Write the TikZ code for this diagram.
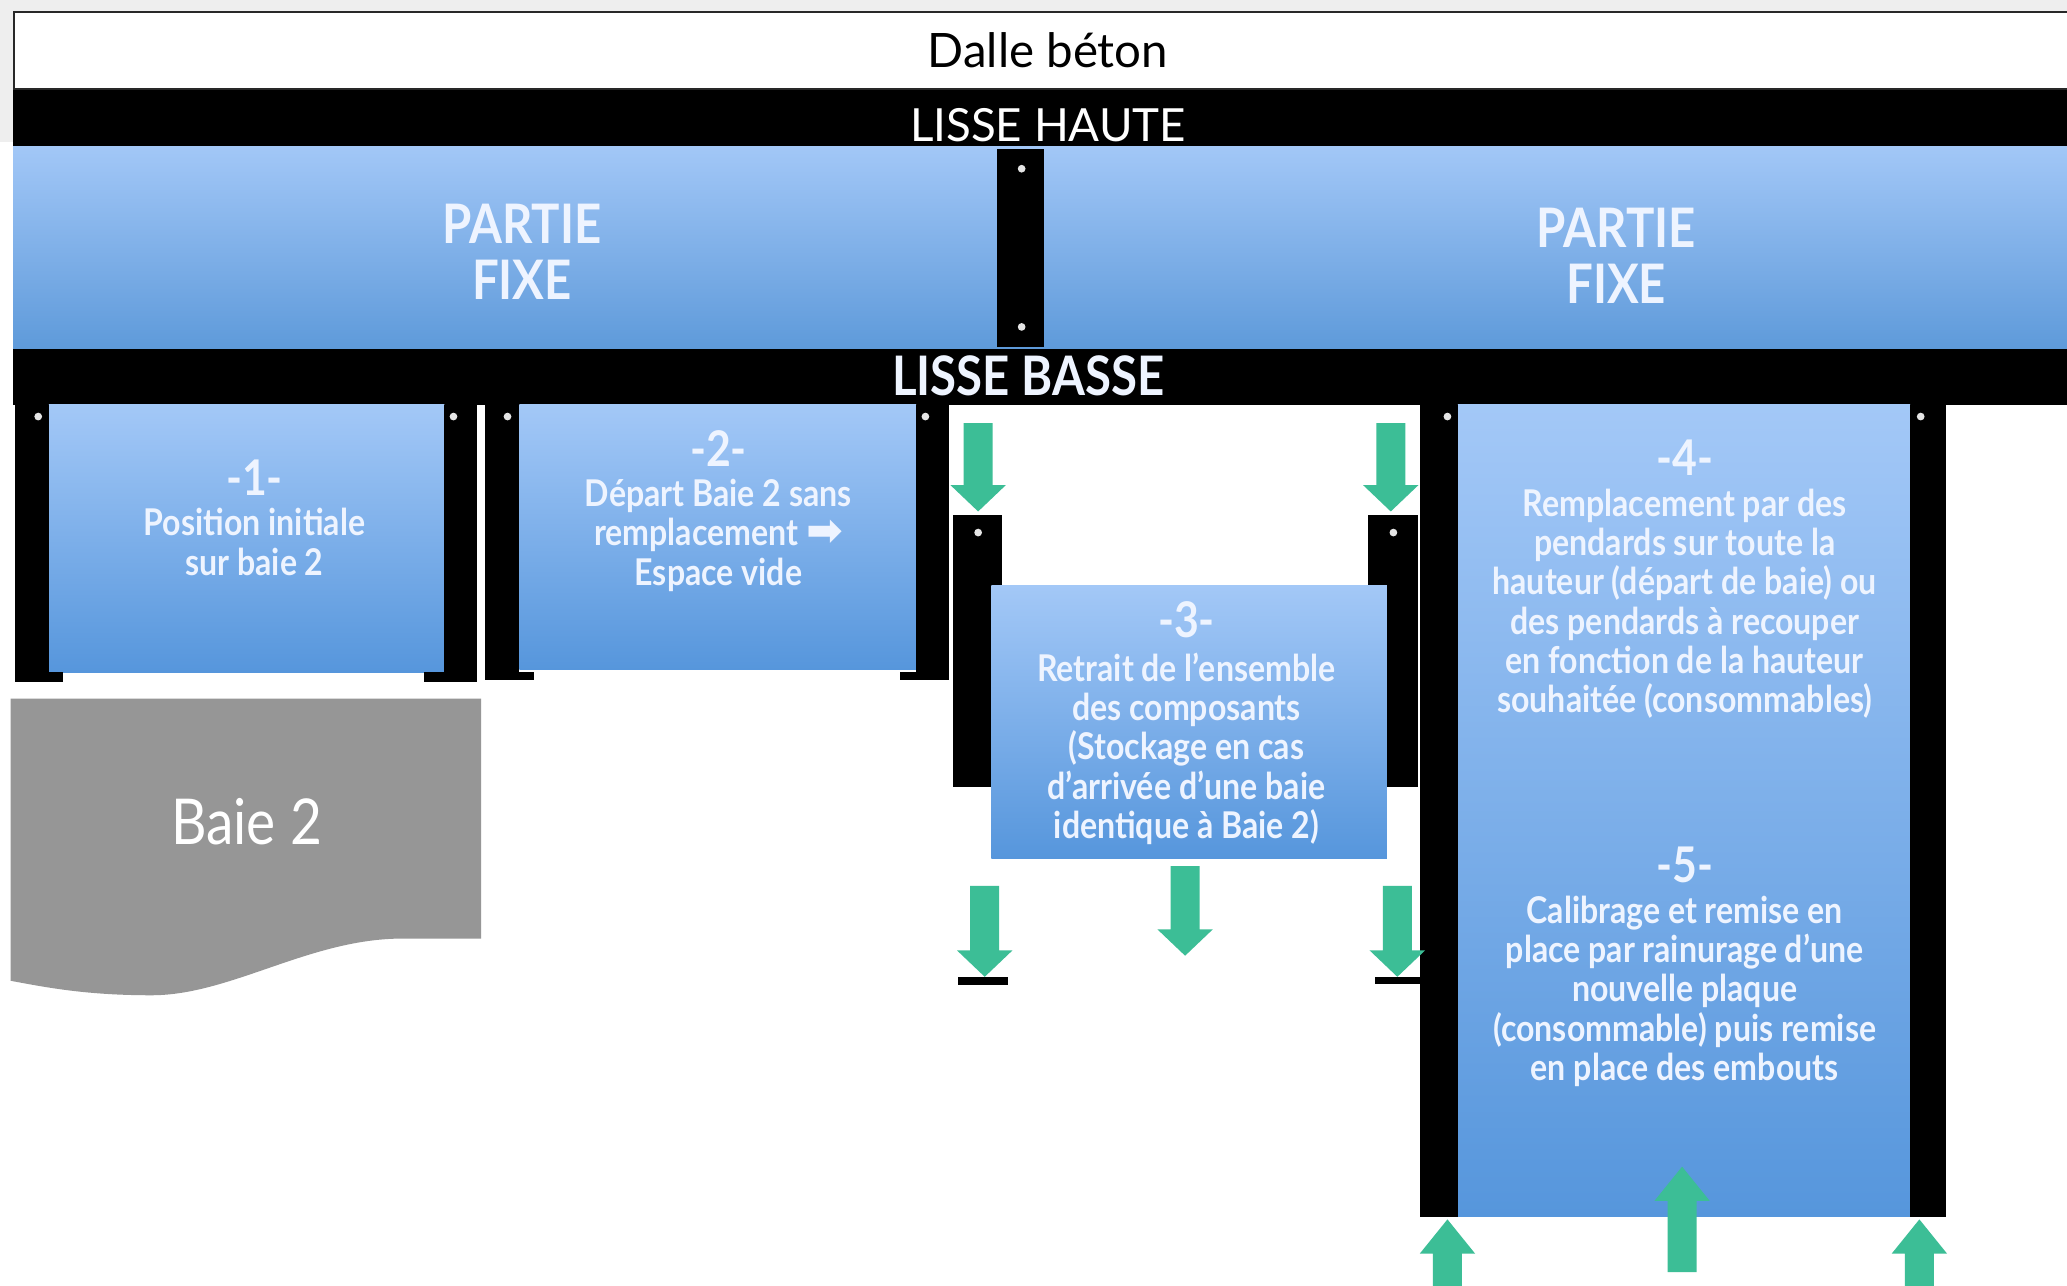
\documentclass[tikz,border=0pt]{standalone}
\usepackage{fontspec}
\setmainfont{Lato}
\newfontfamily\condf[FakeStretch=0.87]{Lato}
\newfontfamily\symf{DejaVu Sans}
\definecolor{bgGray}{RGB}{238,238,238}
\definecolor{dalleLine}{RGB}{40,40,40}
\definecolor{pTop}{RGB}{163,200,247}
\definecolor{pBot}{RGB}{86,150,220}
\definecolor{fTop}{RGB}{162,199,247}
\definecolor{fBot}{RGB}{94,154,218}
\definecolor{gArr}{RGB}{60,190,150}
\definecolor{baieGray}{RGB}{150,150,150}
\definecolor{txtW}{RGB}{238,244,255}
\tikzset{
  panel/.style={top color=pTop, bottom color=pBot},
  fixband/.style={top color=fTop, bottom color=fBot},
  postfill/.style={fill=black},
  pdot/.style={fill=white!80!gray, circle, inner sep=0pt, minimum size=2.2pt},
  wtxt/.style={text=txtW, font=\condf\bfseries\fontsize{10.5}{11.2}\selectfont, align=center, inner sep=0pt},
  numtxt/.style={text=txtW, font=\condf\bfseries\fontsize{14}{14}\selectfont, inner sep=0pt},
  bigtxt/.style={text=txtW, font=\condf\bfseries\fontsize{15.5}{15.7}\selectfont, align=center, inner sep=0pt},
}
\newcommand\garrdown[3]{%
  \fill[gArr] (#1-11,#2) -- (#1+11,#2) -- (#1+11,#3-20) -- (#1+21,#3-20) -- (#1,#3) -- (#1-21,#3-20) -- (#1-11,#3-20) -- cycle;}
\newcommand\garrup[3]{%
  \fill[gArr] (#1-11,#2) -- (#1+11,#2) -- (#1+11,#3+26) -- (#1+21,#3+26) -- (#1,#3) -- (#1-21,#3+26) -- (#1-11,#3+26) -- cycle;}
\begin{document}
\begin{tikzpicture}[x=0.013183cm,y=-0.013183cm]
\useasboundingbox (0,0) rectangle (1568,975);
\clip (0,0) rectangle (1568,975);
\fill[white] (0,0) rectangle (1568,975);
\fill[bgGray] (0,0) rectangle (1568,9);
\fill[bgGray] (0,0) rectangle (10,108);
% Dalle
\draw[draw=dalleLine, line width=0.7pt, fill=white] (10.5,9) rectangle (1580,68);
\node[inner sep=0pt, font=\fontsize{13.5}{14}\selectfont] (dalle) at (795,38) {Dalle béton};
% Lisse haute
\fill[black] (10,68) rectangle (1568,111);
\node[inner sep=0pt, text=white, font=\fontsize{13}{14}\selectfont] (lh) at (795,95) {LISSE HAUTE};
% Partie fixe
\shade[fixband] (10,111) rectangle (1568,265);
\fill[postfill] (756,113) rectangle (792,263);
\node[pdot] (cd1) at (775,128) {};
\node[pdot] (cd2) at (775,248) {};
\node[bigtxt] (pf1) at (396,191) {PARTIE\\FIXE};
\node[bigtxt] (pf2) at (1226,194) {PARTIE\\FIXE};
% Lisse basse
\fill[black] (10,265) rectangle (1568,307);
\node[text=txtW, font=\condf\bfseries\fontsize{15.5}{16}\selectfont, inner sep=0pt] (lb) at (780,285) {LISSE BASSE};
% Panel 1
\shade[panel] (37,307) rectangle (337,510);
\fill[postfill] (11,307) rectangle (37,510);
\fill[postfill] (11,510) rectangle (48,517);
\fill[postfill] (337,307) rectangle (362,510);
\fill[postfill] (322,510) rectangle (362,517);
\node[pdot] (d1a) at (29,316) {};
\node[pdot] (d1b) at (344,316) {};
\node[numtxt] (n1) at (193,362) {-1-};
\node[wtxt] (t1) at (193,411) {Position initiale\\sur baie 2};
% Panel 2
\shade[panel] (394,307) rectangle (695,508);
\fill[postfill] (368,307) rectangle (394,510);
\fill[postfill] (368,510) rectangle (405,516);
\fill[postfill] (695,307) rectangle (720,510);
\fill[postfill] (683,510) rectangle (720,516);
\node[pdot] (d2a) at (385,316) {};
\node[pdot] (d2b) at (702,316) {};
\node[numtxt] (n2) at (545,340) {-2-};
\node[wtxt] (t2) at (545,406) {Départ Baie 2 sans\\remplacement {\symf\fontsize{12.5}{11}\selectfont ➡}\\Espace vide};
% Baie 2
\fill[baieGray] (8,530) -- (365,530) -- (365,712) -- (305,712) .. controls (235,712) and (175,755) .. (115,755) .. controls (65,755) and (35,749) .. (8,744) -- cycle;
\node[text=white, font=\condf\fontsize{18}{18}\selectfont, inner sep=0pt] (baie) at (187,623) {Baie 2};
% Panel 3
\fill[postfill] (723,391) rectangle (760,597);
\fill[postfill] (1038,391) rectangle (1076,597);
\node[pdot] (d3a) at (742,404) {};
\node[pdot] (d3b) at (1057,404) {};
\shade[panel] (752,444) rectangle (1052,651);
\node[numtxt] (n3) at (900,470) {-3-};
\node[wtxt] (t3) at (900,568) {Retrait de l’ensemble\\des composants\\(Stockage en cas\\d’arrivée d’une baie\\identique à Baie 2)};
\fill[postfill] (727,741) rectangle (765,747);
\draw[postfill, draw=white, line width=0.3pt] (1043,741) rectangle (1082,747);
% Panel 4/5
\shade[panel] (1106,307) rectangle (1449,923);
\fill[postfill] (1077,307) rectangle (1106,923);
\fill[postfill] (1449,307) rectangle (1476,923);
\node[pdot] (d4a) at (1098,316) {};
\node[pdot] (d4b) at (1457,316) {};
\node[numtxt] (n4) at (1278,347) {-4-};
\node[wtxt] (t4) at (1278,458) {Remplacement par des\\pendards sur toute la\\hauteur (départ de baie) ou\\des pendards à recouper\\en fonction de la hauteur\\souhaitée (consommables)};
\node[numtxt] (n5) at (1278,656) {-5-};
\node[wtxt] (t5) at (1278,752) {Calibrage et remise en\\place par rainurage d’une\\nouvelle plaque\\(consommable) puis remise\\en place des embouts};
% Arrows
\garrdown{742}{321}{388}
\garrdown{1055}{321}{388}
\garrdown{747}{672}{741}
\garrdown{899}{657}{725}
\garrdown{1060}{672}{741}
\garrup{1098}{985}{925}
\garrup{1276}{965}{885}
\garrup{1456}{985}{925}
\end{tikzpicture}
\end{document}
